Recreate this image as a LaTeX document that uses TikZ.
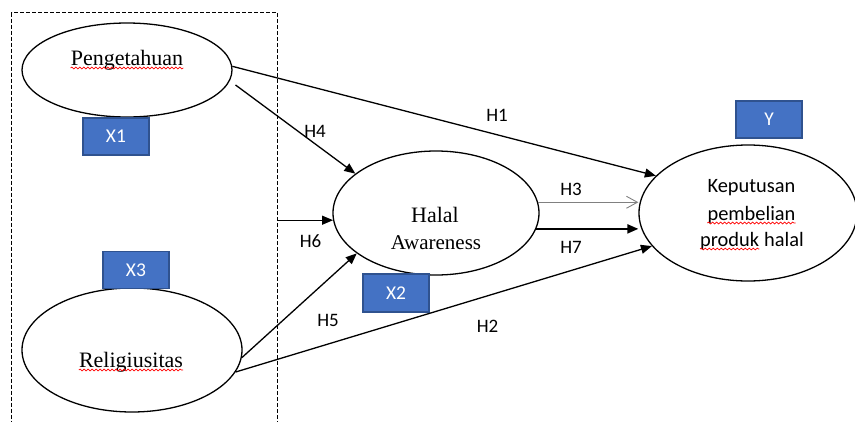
\documentclass[tikz,border=0pt]{standalone}
\usepackage{fontspec}
\setmainfont{Liberation Serif}
\newfontfamily\calfont{Carlito}
\usetikzlibrary{shapes.geometric,arrows.meta,decorations.pathmorphing}
\definecolor{boxblue}{HTML}{4472C4}
\definecolor{boxline}{HTML}{2F528F}
\begin{document}
\begin{tikzpicture}[x=1pt,y=-1pt,
  ell/.style={ellipse, draw, line width=1.3pt, fill=white, inner sep=0pt},
  lbl/.style={font=\calfont\fontsize{19}{22}\selectfont, inner sep=0pt},
  serif/.style={font=\fontsize{22}{26}\selectfont, inner sep=0pt, anchor=base},
  ktext/.style={font=\calfont\fontsize{20.4}{24}\selectfont, inner sep=0pt, anchor=base},
  varbox/.style={draw=boxline, fill=boxblue, line width=1.2pt, text=white,
    font=\calfont\fontsize{19.5}{22}\selectfont, inner sep=0pt,
    minimum width=66pt, minimum height=37pt},
  arr/.style={line width=1.3pt, -{Triangle[length=11pt,width=9pt]}},
  thinarr/.style={line width=0.9pt, draw=gray, -{Straight Barb[length=11pt,width=12pt]}},
  wavy/.style={draw=red, line width=0.7pt, decorate,
    decoration={snake, segment length=4pt, amplitude=0.9pt}}
]
\useasboundingbox (0,0) rectangle (855,421);
\clip (0,0) rectangle (855,421);

% dashed frame
\node[draw, dash pattern=on 4pt off 2pt, line width=1.2pt, minimum width=266pt,
  minimum height=440pt, inner sep=0pt, anchor=north west] (frame) at (11,12) {};

% ellipses
\node[ell, minimum width=210pt, minimum height=94pt] (peng) at (127,70) {};
\node[ell, minimum width=220pt, minimum height=124pt] (rel) at (132,350) {};
\node[ell, minimum width=206pt, minimum height=124pt] (halal) at (436,213) {};
\node[ell, minimum width=218pt, minimum height=136pt] (kep) at (748,213) {};

% ellipse texts
\node[serif] (tpeng) at (127,65) {Pengetahuan};
\node[serif] (trel) at (131,367) {Religiusitas};
\node[serif] (thal1) at (435,222) {Halal};
\node[serif, font=\fontsize{21}{24}\selectfont] (thal2) at (436,249) {Awareness};
\node[ktext] (k1) at (751.5,192) {Keputusan};
\node[ktext] (k2) at (751.5,220) {pembelian};
\node[ktext, anchor=base west] (k3) at (700,246) {produk};
\node[ktext, anchor=base east] (k4) at (804,246) {halal};

% spell-check underlines
\draw[wavy] ([yshift=-3pt]tpeng.base west) -- ([yshift=-3pt]tpeng.base east);
\draw[wavy] ([yshift=-3pt]trel.base west) -- ([yshift=-3pt]trel.base east);
\draw[wavy] ([yshift=-3pt]k2.base west) -- ([yshift=-3pt]k2.base east);
\draw[wavy] ([yshift=-3pt]k3.base west) -- ([yshift=-3pt]k3.base east);

% variable boxes
\node[varbox] (x1) at (116,136.5) {X1};
\node[varbox] (x3) at (136,270) {X3};
\node[varbox, minimum height=38pt] (x2) at (396,293) {X2};
\node[varbox] (yv) at (769,119.5) {Y};

% connectors
\draw[arr] (peng.2) -- (kep.158);
\draw[arr, shorten <=7pt] (peng.-6) -- (halal.154);
\draw[arr] (frame.east |- halal.184) -- (halal.184);
\draw[arr] (rel.-4) -- (halal.207);
\draw[arr] (rel.-12) -- (kep.199);
\draw[thinarr] (halal.6) -- (kep.west |- halal.6);
\draw[arr, line width=2pt] (halal.-9) -- (kep.west |- halal.-9);

% labels
\node[lbl] (h1) at (497,115) {H1};
\node[lbl] (h4) at (315,131.5) {H4};
\node[lbl] (h3) at (571,189) {H3};
\node[lbl] (h7) at (571,247.5) {H7};
\node[lbl] (h6) at (310.5,241) {H6};
\node[lbl] (h5) at (328,320.5) {H5};
\node[lbl] (h2) at (487.5,326) {H2};
\end{tikzpicture}
\end{document}
